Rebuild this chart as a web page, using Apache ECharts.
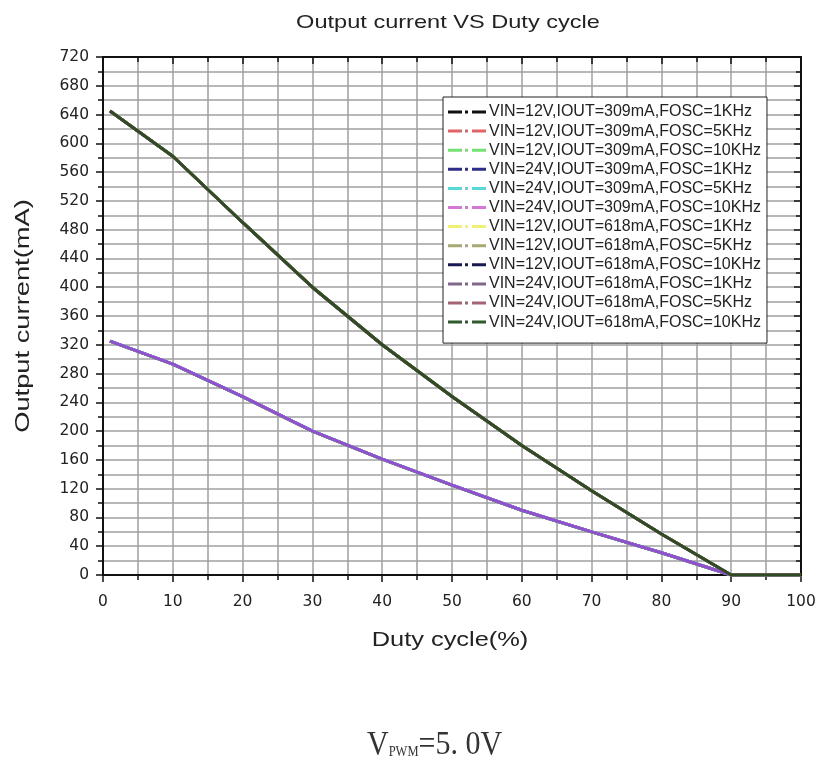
<!DOCTYPE html>
<html>
<head>
<meta charset="utf-8">
<script src="https://cdn.jsdelivr.net/npm/echarts@6/dist/echarts.min.js"></script>
<style>
html,body{margin:0;padding:0;background:#fff;}
#chart{width:820px;height:769px;}
</style>
</head>
<body>
<div id="chart"></div>
<script>
// ---- data ----
var dutyCycle = [1, 10, 20, 30, 40, 50, 60, 70, 80, 90, 100];
var current309 = [325, 293, 248, 200, 161, 125, 90, 60, 31, 0, 0];
var current618 = [645, 582, 490, 400, 320, 248, 180, 117, 57, 0, 0];

var seriesNames = [
  'VIN=12V,IOUT=309mA,FOSC=1KHz',
  'VIN=12V,IOUT=309mA,FOSC=5KHz',
  'VIN=12V,IOUT=309mA,FOSC=10KHz',
  'VIN=24V,IOUT=309mA,FOSC=1KHz',
  'VIN=24V,IOUT=309mA,FOSC=5KHz',
  'VIN=24V,IOUT=309mA,FOSC=10KHz',
  'VIN=12V,IOUT=618mA,FOSC=1KHz',
  'VIN=12V,IOUT=618mA,FOSC=5KHz',
  'VIN=12V,IOUT=618mA,FOSC=10KHz',
  'VIN=24V,IOUT=618mA,FOSC=1KHz',
  'VIN=24V,IOUT=618mA,FOSC=5KHz',
  'VIN=24V,IOUT=618mA,FOSC=10KHz'
];
var seriesValues = [
  current309, current309, current309, current309, current309, current309,
  current618, current618, current618, current618, current618, current618
];
var xTicks = { min: 0, max: 100, interval: 10 };
var yTicks = { min: 0, max: 720, interval: 40 };
var titleText = 'Output current VS Duty cycle';
var xName = 'Duty cycle(%)';
var yName = 'Output current(mA)';

// ---- styles ----
var legendColors = ['#111111', '#e06464', '#74e074', '#2e2e88', '#58d8d8', '#d276d8',
                    '#f0f074', '#a8a874', '#1a1a52', '#806888', '#a46474', '#2e5a2e'];
var lineColors = ['#111111', '#e06464', '#74e074', '#2e2e88', '#58d8d8', '#9450cc',
                  '#f0f074', '#a8a874', '#1a1a52', '#806888', '#a46474', '#2e4d24'];

var FONT = '"Liberation Sans", Arial, sans-serif';
var TICKFONT = '"DejaVu Sans", "Liberation Sans", sans-serif';
var SERIF = '"Liberation Serif", "DejaVu Serif", serif';
var TXT = '#222';
var GRIDC = '#a0a0a0';

var series = seriesNames.map(function (name, i) {
  return {
    name: name,
    type: 'line',
    xAxisIndex: 0,
    yAxisIndex: 0,
    showSymbol: false,
    symbol: 'none',
    animation: false,
    itemStyle: { color: legendColors[i] },
    lineStyle: { color: lineColors[i], width: 3 },
    emphasis: { disabled: true },
    data: dutyCycle.map(function (d, k) { return [d, seriesValues[i][k]]; })
  };
});

var chart = echarts.init(document.getElementById('chart'), null, { renderer: 'canvas' });

var axisLineStyle = { color: '#111', width: 2 };
var tickStyle = { color: '#111', width: 1.5 };

chart.setOption({
  animation: false,
  backgroundColor: '#fff',
  grid: { left: 103, right: 19, top: 57, bottom: 194, containLabel: false },
  legend: {
    orient: 'vertical',
    left: 443, top: 97,
    align: 'left',
    backgroundColor: '#fff',
    borderColor: '#222',
    borderWidth: 1,
    padding: [7, 6, 13, 5],
    itemWidth: 38,
    itemHeight: 16,
    itemGap: 3.1,
    icon: 'path://M0,0h14v3h-14z M17,0h3v3h-3z M24,0h14v3h-14z',
    itemStyle: { borderWidth: 0 },
    selectedMode: false,
    textStyle: { fontFamily: FONT, fontSize: 16, color: TXT, lineHeight: 16, padding: [0, 0, 0, -2] },
    data: seriesNames
  },
  xAxis: [{
    type: 'value', position: 'bottom',
    min: xTicks.min, max: xTicks.max, interval: xTicks.interval,
    axisLine: { show: true, onZero: false, lineStyle: axisLineStyle },
    axisTick: { show: true, inside: false, length: 7, lineStyle: tickStyle },
    minorTick: { show: true, splitNumber: 2, length: 5, lineStyle: tickStyle },
    axisLabel: { margin: 19, fontFamily: TICKFONT, fontSize: 15.5, color: TXT },
    splitLine: { show: true, lineStyle: { color: GRIDC, width: 1.5 } },
    minorSplitLine: { show: true, lineStyle: { color: GRIDC, width: 1.5 } }
  }, {
    type: 'value', position: 'top',
    min: xTicks.min, max: xTicks.max, interval: xTicks.interval,
    axisLine: { show: true, onZero: false, lineStyle: axisLineStyle },
    axisTick: { show: true, inside: true, length: 7, lineStyle: tickStyle },
    minorTick: { show: true, splitNumber: 2, length: 5, lineStyle: tickStyle },
    axisLabel: { show: false },
    splitLine: { show: false }
  }],
  yAxis: [{
    type: 'value', position: 'left',
    min: yTicks.min, max: yTicks.max, interval: yTicks.interval,
    axisLine: { show: true, onZero: false, lineStyle: axisLineStyle },
    axisTick: { show: true, inside: false, length: 7, lineStyle: tickStyle },
    minorTick: { show: true, splitNumber: 2, length: 5, lineStyle: tickStyle },
    axisLabel: { margin: 14, fontFamily: TICKFONT, fontSize: 15.5, color: TXT },
    splitLine: { show: true, lineStyle: { color: GRIDC, width: 1.5 } },
    minorSplitLine: { show: true, lineStyle: { color: GRIDC, width: 1.5 } }
  }, {
    type: 'value', position: 'right',
    min: yTicks.min, max: yTicks.max, interval: yTicks.interval,
    axisLine: { show: true, onZero: false, lineStyle: axisLineStyle },
    axisTick: { show: true, inside: true, length: 7, lineStyle: tickStyle },
    minorTick: { show: true, splitNumber: 2, length: 5, lineStyle: tickStyle },
    axisLabel: { show: false },
    splitLine: { show: false }
  }],
  graphic: [{
    type: 'text', x: 448, y: 23, scaleX: 1.24,
    style: { text: titleText, fontFamily: FONT, fontSize: 19, fill: TXT, align: 'center', verticalAlign: 'middle' }
  }, {
    type: 'text', x: 450, y: 640, scaleX: 1.27,
    style: { text: xName, fontFamily: FONT, fontSize: 20, fill: TXT, align: 'center', verticalAlign: 'middle' }
  }, {
    type: 'text', x: 24, y: 316, rotation: Math.PI / 2, scaleX: 1.4,
    style: { text: yName, fontFamily: FONT, fontSize: 19.5, fill: TXT, align: 'center', verticalAlign: 'middle' }
  }, {
    type: 'text', x: 367, y: 762, scaleY: 1.15,
    style: {
      text: '{v|V}{s|PWM}{v|=5. 0V}',
      verticalAlign: 'bottom',
      rich: {
        v: { fontFamily: SERIF, fontSize: 30, fill: '#333', verticalAlign: 'bottom' },
        s: { fontFamily: SERIF, fontSize: 12.5, fill: '#333', verticalAlign: 'bottom', padding: [0, 0, 2, 0] }
      }
    }
  }],
  series: series
});
</script>
</body>
</html>
